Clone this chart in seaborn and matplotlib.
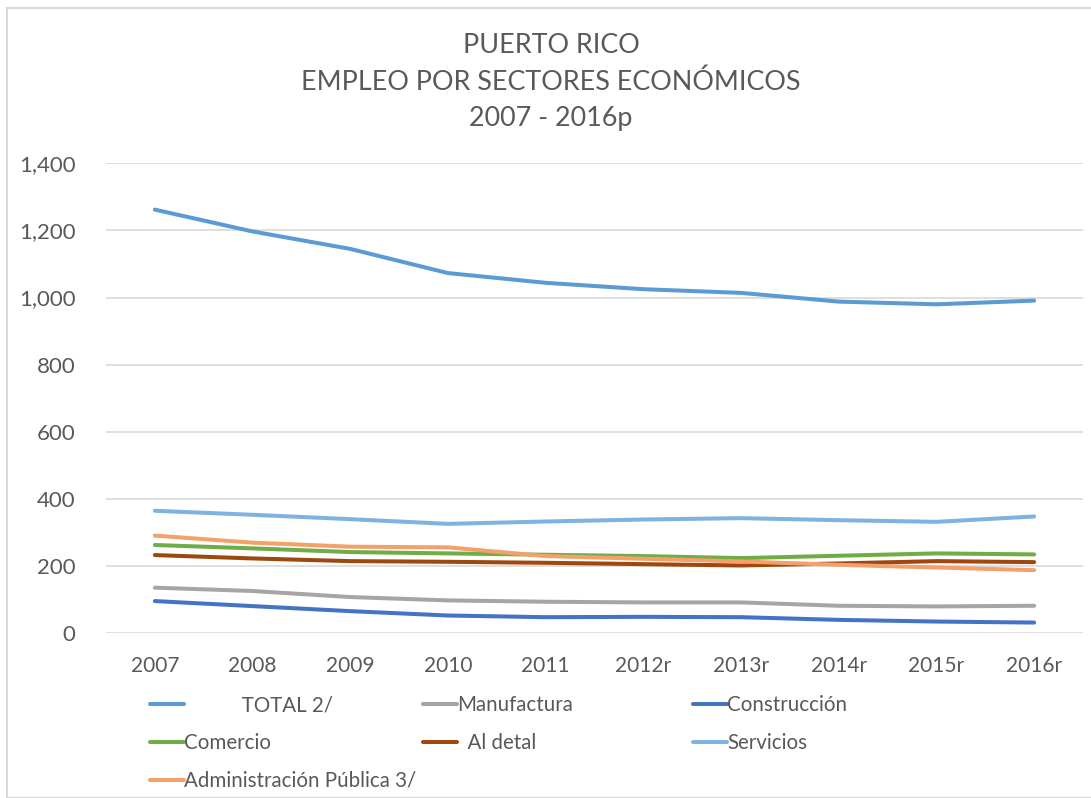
import pandas as pd
import matplotlib.pyplot as plt
import seaborn as sns
from matplotlib.patches import Rectangle

# Datos (miles de empleos)
years = ["2007", "2008", "2009", "2010", "2011", "2012r", "2013r", "2014r", "2015r", "2016r"]
total = [1262, 1197, 1145, 1073, 1044, 1025, 1014, 988, 980, 991]
manufactura = [136, 126, 108, 98, 94, 92, 92, 82, 80, 82]
construccion = [96, 81, 66, 53, 48, 49, 48, 40, 35, 32]
comercio = [263, 253, 242, 238, 234, 230, 224, 231, 238, 235]
al_detal = [233, 223, 215, 213, 210, 206, 202, 208, 215, 212]
servicios = [365, 353, 340, 326, 333, 339, 343, 337, 332, 348]
admin_publica = [291, 270, 258, 256, 230, 222, 214, 204, 196, 188]

series = {
    "TOTAL 2/": total,
    "Manufactura": manufactura,
    "Construcción": construccion,
    "Comercio": comercio,
    "Al detal": al_detal,
    "Servicios": servicios,
    "Administración Pública 3/": admin_publica,
}
colores = {
    "TOTAL 2/": "#5B9BD5",
    "Manufactura": "#A5A5A5",
    "Construcción": "#4472C4",
    "Comercio": "#70AD47",
    "Al detal": "#9E480E",
    "Servicios": "#7FB2E1",
    "Administración Pública 3/": "#F4A06A",
}

rows = []
for sector, vals in series.items():
    for i, v in enumerate(vals):
        rows.append({"pos": i, "Sector": sector, "Empleo": v})
df = pd.DataFrame(rows)

sns.set_style("white")
plt.rcParams["font.family"] = ["Lato", "DejaVu Sans"]
gris = "#595959"

fig = plt.figure(figsize=(10.91, 7.98), dpi=100)
ax = fig.add_axes([106 / 1091, 1 - 633.3 / 798, 977 / 1091, 470 / 798])

sns.lineplot(data=df, x="pos", y="Empleo", hue="Sector", palette=colores,
             hue_order=list(series.keys()), linewidth=2.9, ax=ax, legend=False,
             sort=False)

ax.set_xlim(-0.5, len(years) - 0.5)
ax.set_ylim(0, 1400)
ax.set_xticks(range(len(years)))
ax.set_xticklabels(years)
ax.set_yticks(range(0, 1401, 200))
ax.set_yticklabels([f"{v:,}" for v in range(0, 1401, 200)])
ax.tick_params(axis="both", length=0, colors=gris, labelsize=15)
ax.tick_params(axis="y", pad=22, labelsize=16)
ax.tick_params(axis="x", pad=16)
ax.set_xlabel("")
ax.set_ylabel("")
ax.grid(axis="y", color="#D9D9D9", linewidth=1.2)
ax.set_axisbelow(True)
for s in ax.spines.values():
    s.set_visible(False)

fig.text(0.505, 1 - 82 / 798,
         "PUERTO RICO\nEMPLEO POR SECTORES ECONÓMICOS\n2007 - 2016p",
         ha="center", va="center", fontsize=19.4, color=gris, linespacing=1.58)

# Leyenda en tres columnas, como en Excel
handles = {s: plt.Line2D([], [], color=c, linewidth=2.9) for s, c in colores.items()}
columnas = [
    (150, ["TOTAL 2/", "Comercio", "Administración Pública 3/"],
     ["           TOTAL 2/", "Comercio", "Administración Pública 3/"]),
    (423, ["Manufactura", "Al detal"], ["Manufactura", "  Al detal"]),
    (693, ["Construcción", "Servicios"], ["Construcción", "Servicios"]),
]
for x0, claves, etiquetas in columnas:
    leg = fig.legend([handles[k] for k in claves], etiquetas,
                     loc="upper left", bbox_to_anchor=(x0 / 1091, 1 - 695 / 798),
                     frameon=False, fontsize=14.8, handlelength=1.65,
                     handletextpad=0.0, borderaxespad=0, borderpad=0,
                     labelspacing=0.87, labelcolor=gris)

fig.patches.append(Rectangle((7 / 1091, 0), 1.0, 1 - 8 / 798,
                             transform=fig.transFigure, fill=False,
                             edgecolor="#D9D9D9", linewidth=1.5))

plt.savefig("out.png", dpi=100)
